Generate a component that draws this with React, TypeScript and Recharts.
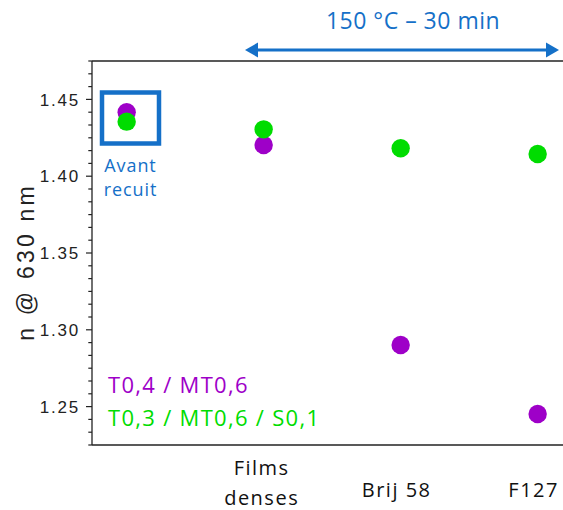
import React from 'react';
import { ScatterChart, Scatter, XAxis, YAxis, ReferenceArea, ReferenceLine, Legend } from 'recharts';

const categories = ['Avant recuit', 'Films denses', 'Brij 58', 'F127'];
const seriesNames = ['T0,4 / MT0,6', 'T0,3 / MT0,6 / S0,1'];
const seriesPurple = [1.4416, 1.4203, 1.2901, 1.2452];
const seriesGreen = [1.4355, 1.4305, 1.4182, 1.4145];
const yMajorTicks = [1.25, 1.3, 1.35, 1.4, 1.45];
const yAxisTitle = 'n @ 630 nm';
const annealLabel = '150 °C – 30 min';

const PURPLE = '#9E00C8';
const GREEN = '#00DC00';
const BLUE = '#1570C8';
const AXIS = '#222';

const Y_MIN = 1.225;
const Y_MAX = 1.475;
// 5 minor ticks between each pair of labelled ticks
const yTicks: number[] = [];
for (let k = 0; k <= 30; k++) yTicks.push(Y_MIN + (k * 0.05) / 6);

const purpleData = categories.map((c, i) => ({ x: i, y: seriesPurple[i], name: c }));
const greenData = categories.map((c, i) => ({ x: i, y: seriesGreen[i], name: c }));

const isMajor = (v: number) => yMajorTicks.some((m) => Math.abs(m - v) < 1e-6);

const YTick = (props: any) => {
  const { x, y, payload } = props;
  const major = isMajor(payload.value);
  return (
    <g>
      <line x1={x - (major ? 6 : 3.7)} x2={x} y1={y} y2={y} stroke={AXIS} strokeWidth={1.2} />
      {major && (
        <text x={x - 12} y={y} dy="0.36em" textAnchor="end" fontSize={17} letterSpacing={1.8}
          fontFamily="'Liberation Sans', Arial, sans-serif" fill="#222">
          {payload.value.toFixed(2)}
        </text>
      )}
    </g>
  );
};

const XTick = (props: any) => {
  const { x, y, payload } = props;
  const label = categories[payload.value] || '';
  const words = label === 'Films denses' ? ['Films', 'denses'] : [label];
  const font = { fontSize: 20, letterSpacing: 1.5, fontFamily: "'Open Sans', sans-serif", fill: '#111' };
  if (words.length > 1) {
    return (
      <g>
        <text x={x - 2} y={y + 22} textAnchor="middle" {...font}>{words[0]}</text>
        <text x={x - 2} y={y + 52} textAnchor="middle" {...font}>{words[1]}</text>
      </g>
    );
  }
  return <text x={x - 4} y={y + 44} textAnchor="middle" {...font}>{label}</text>;
};

const YTitle = (props: any) => {
  const { viewBox } = props;
  if (!viewBox) return null;
  const cx = viewBox.x + 26;
  const cy = viewBox.y + viewBox.height / 2 + 9;
  return (
    <text x={cx} y={cy} dy="0.36em" textAnchor="middle" transform={`rotate(-90, ${cx}, ${cy})`}
      fontSize={23} letterSpacing={3.2} fontFamily="'Liberation Sans', Arial, sans-serif" fill="#222">
      {yAxisTitle}
    </text>
  );
};

const BoxLabel = (props: any) => {
  const { viewBox } = props;
  if (!viewBox) return null;
  const cx = viewBox.x + viewBox.width / 2;
  const bottom = viewBox.y + viewBox.height;
  const font = { fontSize: 18, letterSpacing: 0.9, fontFamily: "'Open Sans', sans-serif", fill: BLUE };
  return (
    <g>
      <text x={cx} y={bottom + 29} textAnchor="middle" {...font}>Avant</text>
      <text x={cx} y={bottom + 53} textAnchor="middle" {...font}>recuit</text>
    </g>
  );
};

const LegendContent = (props: any) => {
  const items = [...(props.payload || [])].sort(
    (a: any, b: any) => seriesNames.indexOf(a.value) - seriesNames.indexOf(b.value)
  );
  return (
    <div style={{ fontFamily: "'Open Sans', sans-serif", fontSize: 22, lineHeight: '33px', letterSpacing: 1.3, whiteSpace: 'nowrap' }}>
      {items.map((entry: any) => (
        <div key={entry.value} style={{ color: entry.color }}>{entry.value}</div>
      ))}
    </div>
  );
};

const Dot = (color: string) => (p: any) => <circle cx={p.cx} cy={p.cy} r={9.2} fill={color} />;

const App: React.FC = () => {
  return (
    <div style={{ position: 'absolute', left: 0, top: 0, width: 563, height: 510, background: '#fff' }}>
      <ScatterChart width={563} height={510} margin={{ top: 61, right: 0, bottom: 0, left: 0 }}>
        <XAxis
          type="number"
          dataKey="x"
          domain={[-0.253, 3.185]}
          ticks={[1, 2, 3]}
          height={65}
          tickLine={false}
          axisLine={{ stroke: AXIS, strokeWidth: 1.3 }}
          tick={<XTick />}
          allowDataOverflow
        />
        <YAxis
          type="number"
          dataKey="y"
          domain={[Y_MIN, Y_MAX]}
          ticks={yTicks}
          interval={0}
          width={92}
          tickSize={0}
          tickMargin={0}
          tickLine={false}
          axisLine={{ stroke: AXIS, strokeWidth: 1.3 }}
          tick={<YTick />}
          allowDataOverflow
          label={{ content: <YTitle /> }}
        />
        <ReferenceLine y={Y_MAX} stroke={AXIS} strokeWidth={1.3} />
        <ReferenceArea
          x1={-0.18}
          x2={0.236}
          y1={1.4213}
          y2={1.4545}
          fill="none"
          fillOpacity={0}
          stroke={BLUE}
          strokeWidth={4.5}
          label={<BoxLabel />}
        />
        <Legend
          layout="vertical"
          align="center"
          verticalAlign="middle"
          content={<LegendContent />}
          wrapperStyle={{ position: 'absolute', left: 108, top: 368, width: 'auto' }}
        />
        <Scatter name={seriesNames[0]} data={purpleData} fill={PURPLE} shape={Dot(PURPLE)} isAnimationActive={false} />
        <Scatter name={seriesNames[1]} data={greenData} fill={GREEN} shape={Dot(GREEN)} isAnimationActive={false} />
      </ScatterChart>
      <svg width={563} height={70} style={{ position: 'absolute', left: 0, top: 0, pointerEvents: 'none' }}>
        <text x={413} y={29} textAnchor="middle" fontSize={23} letterSpacing={0.5}
          fontFamily="'Open Sans', sans-serif" fill={BLUE}>{annealLabel}</text>
        <line x1={256} x2={548} y1={50} y2={50} stroke={BLUE} strokeWidth={3.2} />
        <polygon points="245,50 258,42.5 258,57.5" fill={BLUE} />
        <polygon points="559,50 546,42.5 546,57.5" fill={BLUE} />
      </svg>
    </div>
  );
};

export default App;
